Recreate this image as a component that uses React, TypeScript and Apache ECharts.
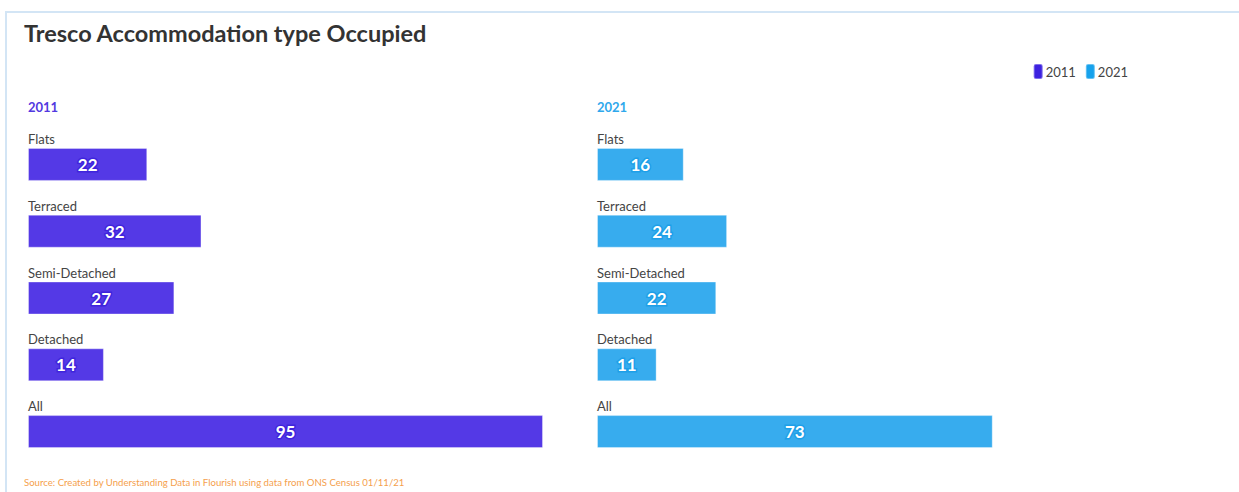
import React, { useEffect, useRef } from "react";
import * as echarts from "echarts";

const categories = ["Flats", "Terraced", "Semi-Detached", "Detached", "All"];
const values2011 = [22, 32, 27, 14, 95];
const values2021 = [16, 24, 22, 11, 73];
const seriesNames = ["2011", "2021"];
const titleText = "Tresco Accommodation type Occupied";
const sourceText = "Source: Created by Understanding Data in Flourish using data from ONS Census 01/11/21";

const FONT = "Lato, 'Noto Sans', sans-serif";
const C1 = "#5439e6";
const C2 = "#37acee";
const C1dark = "#3f24dc";
const C2dark = "#1d9fe8";

export default function App() {
  const ref = useRef<HTMLDivElement>(null);
  useEffect(() => {
    if (!ref.current) return;
    const chart = echarts.init(ref.current, null, { renderer: "svg" });
    const grids = [
      { left: 28, top: 131, width: 515, height: 334 },
      { left: 597, top: 131, width: 515, height: 334 },
    ];
    const yAxisCfg = (gi: number) => ({
      type: "category",
      gridIndex: gi,
      data: categories,
      inverse: true,
      axisLine: { show: false },
      axisTick: { show: false },
      splitLine: { show: false },
      axisLabel: {
        inside: true,
        align: "left",
        verticalAlign: "bottom",
        padding: [0, 0, 19, 0],
        margin: 0,
        color: "#444",
        fontSize: 13,
        fontFamily: FONT,
      },
      z: 5,
    });
    const xAxisCfg = (gi: number) => ({
      type: "value",
      gridIndex: gi,
      min: 0,
      max: 95,
      show: false,
    });
    const barSeries = (name: string, data: number[], gi: number, color: string, dark: string) => ({
      name,
      type: "bar",
      xAxisIndex: gi,
      yAxisIndex: gi,
      data,
      barWidth: 33,
      itemStyle: { color, borderColor: "rgba(255,255,255,0.35)", borderWidth: 1 },
      label: {
        show: true,
        position: "inside",
        color: "#fff",
        fontWeight: "bold",
        fontSize: 17,
        fontFamily: FONT,
        textBorderColor: dark,
        textBorderWidth: 3,
      },
    });
    chart.setOption({
      animation: false,
      backgroundColor: "#fff",
      grid: grids,
      xAxis: [xAxisCfg(0), xAxisCfg(1)],
      yAxis: [yAxisCfg(0), yAxisCfg(1)],
      legend: {
        right: 106,
        top: 58,
        icon: "roundRect",
        itemWidth: 9,
        itemHeight: 15,
        itemGap: 9,
        textStyle: { color: "#444", fontSize: 13, fontFamily: FONT, padding: [0, 0, 0, -2] },
        data: [
          { name: seriesNames[0], itemStyle: { color: "#3d22e0" } },
          { name: seriesNames[1], itemStyle: { color: "#17a2ec" } },
        ],
      },
      series: [
        barSeries(seriesNames[0], values2011, 0, C1, C1dark),
        barSeries(seriesNames[1], values2021, 1, C2, C2dark),
      ],
      graphic: [
        {
          type: "rect",
          shape: { x: 6, y: 12, width: 1400, height: 700 },
          style: { fill: "none", stroke: "#d3e5f5", lineWidth: 2 },
          silent: true,
        },
        {
          type: "text",
          x: 24,
          y: 33,
          style: {
            text: titleText,
            fill: "#333",
            fontSize: 23.5,
            fontWeight: "bold",
            fontFamily: FONT,
            textVerticalAlign: "middle",
          },
        },
        {
          type: "text",
          x: 28,
          y: 107,
          style: {
            text: seriesNames[0],
            fill: "#5239e0",
            fontSize: 13,
            fontWeight: "bold",
            fontFamily: FONT,
            textVerticalAlign: "middle",
          },
        },
        {
          type: "text",
          x: 597,
          y: 107,
          style: {
            text: seriesNames[1],
            fill: "#2fa8ec",
            fontSize: 13,
            fontWeight: "bold",
            fontFamily: FONT,
            textVerticalAlign: "middle",
          },
        },
        {
          type: "text",
          x: 24,
          y: 482,
          style: {
            text: sourceText,
            fill: "#f5a04c",
            fontSize: 9.6,
            fontFamily: FONT,
            textVerticalAlign: "middle",
          },
        },
      ],
    });
    return () => chart.dispose();
  }, []);
  return (
    <div
      ref={ref}
      style={{ position: "fixed", left: 0, top: 0, width: 1239, height: 492 }}
    />
  );
}
